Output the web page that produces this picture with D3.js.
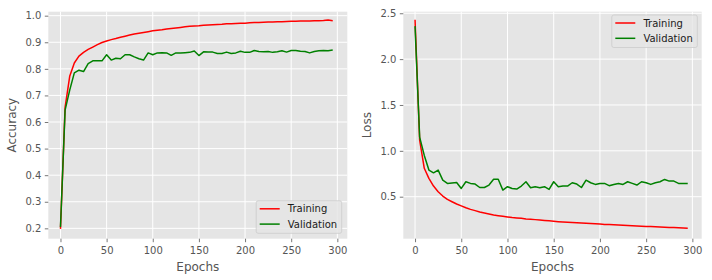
<!DOCTYPE html>
<html>
<head>
<meta charset="utf-8">
<script src="https://cdn.jsdelivr.net/npm/d3@7"></script>
<style>
  body { margin: 0; background: #fff; }
  svg { display: block; font-family: "DejaVu Sans", sans-serif; }
</style>
</head>
<body>
<svg id="chart" width="712" height="280"></svg>
<script>
// epochs (every 5th epoch logged)
const epochs = [0,5,10,15,20,25,30,35,40,45,50,55,60,65,70,75,80,85,90,95,
  100,105,110,115,120,125,130,135,140,145,150,155,160,165,170,175,180,185,190,195,
  200,205,210,215,220,225,230,235,240,245,250,255,260,265,270,275,280,285,290,295];

const trainAcc = [0.198,0.655,0.772,0.822,0.848,0.862,0.873,0.882,0.891,0.899,
  0.905,0.910,0.914,0.919,0.923,0.927,0.931,0.934,0.937,0.940,
  0.943,0.945,0.947,0.950,0.952,0.954,0.956,0.958,0.960,0.961,
  0.962,0.964,0.965,0.966,0.967,0.968,0.970,0.970,0.971,0.972,
  0.972,0.973,0.974,0.974,0.975,0.976,0.976,0.977,0.977,0.978,
  0.979,0.979,0.980,0.980,0.980,0.981,0.981,0.982,0.984,0.981];

const valAcc = [0.205,0.645,0.720,0.785,0.795,0.790,0.820,0.830,0.830,0.830,
  0.853,0.833,0.840,0.838,0.853,0.853,0.845,0.838,0.833,0.860,
  0.853,0.860,0.861,0.860,0.851,0.860,0.860,0.861,0.862,0.867,
  0.850,0.864,0.863,0.863,0.858,0.858,0.863,0.858,0.860,0.866,
  0.862,0.862,0.869,0.865,0.864,0.865,0.862,0.864,0.868,0.863,
  0.869,0.869,0.866,0.865,0.860,0.865,0.868,0.869,0.868,0.871];

const trainLoss = [2.43,1.116,0.81,0.70,0.616,0.554,0.507,0.47,0.445,0.42,
  0.40,0.38,0.362,0.348,0.333,0.322,0.312,0.30,0.293,0.286,
  0.279,0.272,0.268,0.264,0.257,0.254,0.25,0.245,0.241,0.237,
  0.232,0.228,0.225,0.222,0.219,0.216,0.213,0.210,0.207,0.204,
  0.201,0.198,0.196,0.193,0.191,0.188,0.186,0.184,0.181,0.179,
  0.176,0.174,0.171,0.169,0.167,0.165,0.163,0.161,0.158,0.156];

const valLoss = [2.36,1.15,0.95,0.79,0.76,0.79,0.68,0.645,0.65,0.655,
  0.59,0.663,0.645,0.638,0.60,0.60,0.627,0.69,0.69,0.572,
  0.609,0.59,0.583,0.616,0.663,0.598,0.609,0.598,0.609,0.58,
  0.663,0.609,0.616,0.616,0.652,0.638,0.60,0.68,0.652,0.634,
  0.645,0.645,0.62,0.634,0.645,0.634,0.663,0.645,0.627,0.663,
  0.652,0.634,0.652,0.663,0.688,0.67,0.67,0.645,0.645,0.645];

const xTicks = [0,50,100,150,200,250,300];
const accTicks = [0.2,0.3,0.4,0.5,0.6,0.7,0.8,0.9,1.0];
const lossTicks = [0.5,1.0,1.5,2.0,2.5];
const seriesNames = ['Training','Validation'];
const seriesColors = ['#ff0000','#008000'];

const svg = d3.select('#chart');

function panel(opts){
  const {left, right, top, bottom, xDomain, yDomain, yTicks, yFmt, ylabel, series, legendPos} = opts;
  const x = d3.scaleLinear().domain(xDomain).range([left, right]);
  const y = d3.scaleLinear().domain(yDomain).range([bottom, top]);
  const g = svg.append('g');

  g.append('rect').attr('x', left).attr('y', top)
    .attr('width', right-left).attr('height', bottom-top).attr('fill', '#e5e5e5');

  // grid
  g.append('g').selectAll('line').data(xTicks).join('line')
    .attr('x1', d=>x(d)).attr('x2', d=>x(d)).attr('y1', top).attr('y2', bottom)
    .attr('stroke', '#fff').attr('stroke-width', 1);
  g.append('g').selectAll('line').data(yTicks).join('line')
    .attr('x1', left).attr('x2', right).attr('y1', d=>y(d)).attr('y2', d=>y(d))
    .attr('stroke', '#fff').attr('stroke-width', 1);

  // axes
  const xAxis = g.append('g').attr('transform', `translate(0,${bottom})`)
    .call(d3.axisBottom(x).tickValues(xTicks).tickSize(3.5).tickPadding(5).tickFormat(d3.format('d')));
  const yAxis = g.append('g').attr('transform', `translate(${left},0)`)
    .call(d3.axisLeft(y).tickValues(yTicks).tickSize(3.5).tickPadding(3.5).tickFormat(yFmt));
  [xAxis, yAxis].forEach(a => {
    a.select('.domain').remove();
    a.selectAll('.tick line').attr('stroke', '#555').attr('stroke-width', 0.8);
    a.selectAll('.tick text').attr('fill', '#555').attr('font-size', 10)
      .attr('font-family', '"DejaVu Sans", sans-serif');
  });

  // lines
  const line = d3.line().x((d,i)=>x(epochs[i])).y(d=>y(d));
  series.forEach((s,i) => {
    g.append('path').datum(s).attr('d', line)
      .attr('fill', 'none').attr('stroke', seriesColors[i]).attr('stroke-width', 1.5)
      .attr('stroke-linejoin', 'round');
  });

  // labels
  g.append('text').attr('x', (left+right)/2).attr('y', 270.5)
    .attr('text-anchor', 'middle').attr('font-size', 12).attr('fill', '#555').text('Epochs');
  g.append('text').attr('transform', `translate(${left-32},${(top+bottom)/2}) rotate(-90)`)
    .attr('text-anchor', 'middle').attr('font-size', 12).attr('fill', '#555').text(ylabel);

  // legend
  const lw = 85.5, lh = 32.5;
  const lx = legendPos === 'lower' ? right - 5.6 - lw : right - 4.4 - lw;
  const ly = legendPos === 'lower' ? bottom - 5.4 - lh : top + 3.3;
  const leg = g.append('g').attr('transform', `translate(${lx},${ly})`);
  leg.append('rect').attr('width', lw).attr('height', lh).attr('rx', 2)
    .attr('fill', '#e5e5e5').attr('fill-opacity', 0.8)
    .attr('stroke', '#cccccc').attr('stroke-opacity', 0.8).attr('stroke-width', 1);
  seriesNames.forEach((n,i) => {
    const ry = 8 + i*15.3;
    leg.append('line').attr('x1', 3.5).attr('x2', 23.5).attr('y1', ry).attr('y2', ry)
      .attr('stroke', seriesColors[i]).attr('stroke-width', 1.5);
    leg.append('text').attr('x', 31.6).attr('y', ry + 3.7)
      .attr('font-size', 10).attr('fill', '#1a1a1a').text(n);
  });
}

panel({
  left: 48.3, right: 347.3, top: 11.7, bottom: 238.7,
  xDomain: [-13.2, 310.8], yDomain: [0.161, 1.015],
  yTicks: accTicks, yFmt: d3.format('.1f'), ylabel: 'Accuracy',
  series: [trainAcc, valAcc], legendPos: 'lower'
});

panel({
  left: 403.3, right: 701.7, top: 11.7, bottom: 238.7,
  xDomain: [-12.7, 310.1], yDomain: [0.042, 2.517],
  yTicks: lossTicks, yFmt: d3.format('.1f'), ylabel: 'Loss',
  series: [trainLoss, valLoss], legendPos: 'upper'
});
</script>
</body>
</html>
